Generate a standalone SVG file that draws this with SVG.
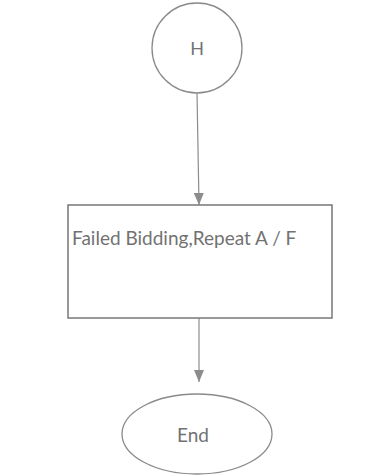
<svg xmlns="http://www.w3.org/2000/svg" width="382" height="476" viewBox="0 0 382 476">
  <style>
    .shape { fill: #ffffff; stroke: #8a8a8a; stroke-width: 1.3; }
    .box { fill: #ffffff; stroke: #777777; stroke-width: 1.5; }
    .label { font-family: "Lato", "Open Sans", sans-serif; fill: #727272; }
    .edge { stroke: #8c8c8c; stroke-width: 1.2; fill: none; marker-end: url(#arrow); }
  </style>
  <defs>
    <marker id="arrow" viewBox="0 0 12 10" refX="12" refY="5" markerWidth="12" markerHeight="10" markerUnits="userSpaceOnUse" orient="auto">
      <path d="M0,0 L12,5 L0,10 Z" fill="#8c8c8c"/>
    </marker>
  </defs>

  <g id="connectors">
    <line class="edge" x1="197" y1="93" x2="199" y2="205"/>
    <line class="edge" x1="199" y1="318" x2="199" y2="382"/>
  </g>

  <g id="node-h">
    <circle class="shape" cx="197" cy="48" r="45"/>
    <text class="label" x="197" y="55" font-size="18" text-anchor="middle">H</text>
  </g>

  <g id="node-failed">
    <rect class="box" x="68" y="205" width="264" height="113"/>
    <text class="label" x="72" y="245" font-size="19">Failed Bidding,Repeat A / F</text>
  </g>

  <g id="node-end">
    <ellipse class="shape" cx="197" cy="434" rx="75" ry="40"/>
    <text class="label" x="193" y="442" font-size="19" text-anchor="middle">End</text>
  </g>
</svg>
